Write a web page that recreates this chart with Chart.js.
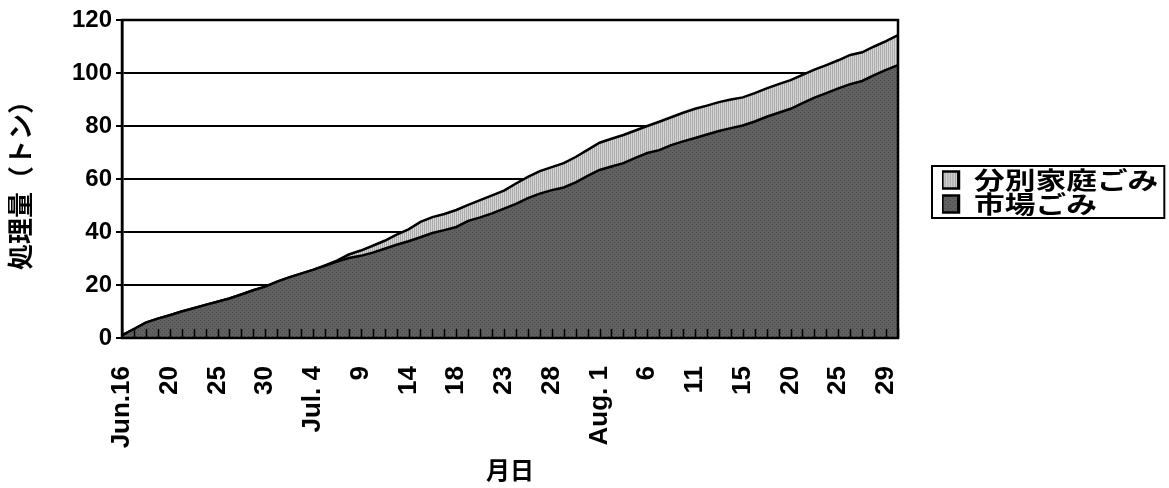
<!DOCTYPE html>
<html>
<head>
<meta charset="utf-8">
<script src="https://cdn.jsdelivr.net/npm/chart.js@4.4.1/dist/chart.umd.min.js"></script>
<style>
  html, body { margin: 0; padding: 0; background: #fff; }
  #wrap { width: 1169px; height: 488px; }
</style>
</head>
<body>
<div id="wrap"><canvas id="graf" width="1169" height="488"></canvas></div>
<script>
// dias úteis (sem domingos) de 16/6 a 30/8
const categorias = [
    '6/16','6/17','6/18','6/19','6/20','6/21','6/23','6/24','6/25','6/26','6/27','6/28','6/30',
    '7/1','7/2','7/3','7/4','7/5','7/7','7/8','7/9','7/10','7/11','7/12','7/14','7/15','7/16',
    '7/17','7/18','7/19','7/21','7/22','7/23','7/24','7/25','7/26','7/28','7/29','7/30','7/31',
    '8/1','8/2','8/4','8/5','8/6','8/7','8/8','8/9','8/11','8/12','8/13','8/14','8/15','8/16',
    '8/18','8/19','8/20','8/21','8/22','8/23','8/25','8/26','8/27','8/28','8/29','8/30'
];

// rótulos do eixo x (um a cada 4 categorias)
const rotulosX = ['Jun.16','20','25','30','Jul. 4','9','14','18','23','28','Aug. 1','6','11','15','20','25','29'];
const passoRotulo = 4;

const ticksY = [0, 20, 40, 60, 80, 100, 120];

const nomes = ['市場ごみ', '分別家庭ごみ'];

// toneladas acumuladas
const ichiba = [
    1, 3.4, 5.8, 7.3, 8.6, 10, 11.2, 12.5, 13.7, 14.9, 16.4, 18, 19.4, 21.3, 22.9, 24.3, 25.7,
    27.2, 28.8, 30.2, 31, 32.2, 33.7, 35.2, 36.5, 38, 39.6, 40.7, 41.9, 44.2, 45.5, 47, 48.8,
    50.6, 52.8, 54.5, 55.8, 56.8, 58.7, 61.2, 63.4, 64.7, 66, 68, 69.8, 70.9, 72.8, 74.2, 75.5,
    76.8, 78.1, 79.2, 80.2, 81.7, 83.5, 85, 86.5, 88.6, 90.7, 92.4, 94.2, 95.8, 97, 99.2, 101.2, 103
];
const bunbetsu = [
    0, 0, 0, 0, 0, 0, 0, 0, 0, 0, 0, 0, 0, 0, 0, 0, 0, 0.2,
    0.4, 1.3, 2.0, 2.6, 3.0, 3.8, 4.5, 5.8, 6.0, 6.1, 6.4, 6.0, 6.5, 6.8, 6.8, 7.7, 8.0, 8.5,
    8.7, 9.2, 9.6, 9.8, 10.3, 10.5, 10.6, 10.3, 10.2, 10.7, 10.5, 10.8, 11.0, 10.9, 10.9, 10.8,
    10.6, 10.7, 10.7, 10.8, 10.8, 10.7, 10.6, 10.6, 10.6, 11.0, 10.8, 10.8, 10.8, 11.3
];

const fonteLatina = "'Liberation Sans', Arial, sans-serif";
const fonteJP = "'Noto Sans CJK JP', sans-serif";
const escalaLegenda = 1.28; // a legenda original é mais larga que alta

// textura pontilhada escura e listrada clara
function textura(tipo) {
    const c = document.createElement('canvas');
    const g = c.getContext('2d');
    if (tipo === 'escura') {
        c.width = 4; c.height = 4;
        g.fillStyle = '#616161';
        g.fillRect(0, 0, 4, 4);
        g.fillStyle = '#474747';
        g.fillRect(0, 0, 1, 1);
        g.fillRect(2, 2, 1, 1);
    } else {
        c.width = 2; c.height = 2;
        g.fillStyle = '#d6d6d6';
        g.fillRect(0, 0, 2, 2);
        g.fillStyle = '#aaaaaa';
        g.fillRect(0, 0, 1, 2);
    }
    return g.createPattern(c, 'repeat');
}

const moldura = {
    id: 'moldura',
    afterLayout(chart) {
        // legenda fica afastada da área do gráfico
        const lg = chart.legend;
        const dx = chart.chartArea.right + 44 - lg.left;
        lg.left += dx; lg.right += dx;
        lg.top -= 62; lg.bottom -= 62;
        if (!lg._esticada) {
            const desenhar = lg.draw;
            lg.draw = function () {
                const c = this.ctx;
                const x0 = this.left;
                c.save();
                c.translate(x0, 0);
                c.scale(escalaLegenda, 1);
                c.translate(-x0, 0);
                desenhar.apply(this, arguments);
                c.restore();
            };
            lg._esticada = true;
        }
    },
    afterDatasetsDraw(chart) {
        const {ctx, chartArea: a, scales: {x}} = chart;
        ctx.save();
        ctx.strokeStyle = '#000';
        ctx.lineWidth = 1.5;
        ctx.beginPath();
        for (let i = 0; i < categorias.length; i++) {
            const px = Math.round(x.getPixelForValue(i)) + 0.5;
            ctx.moveTo(px, a.bottom);
            ctx.lineTo(px, a.bottom - 9);
        }
        ctx.stroke();
        ctx.lineWidth = 2.5;
        ctx.strokeRect(a.left, a.top, a.right - a.left, a.bottom - a.top);
        ctx.restore();
    },
    afterDraw(chart) {
        const caixas = chart.legend.legendHitBoxes;
        if (!caixas || !caixas.length) return;
        let l = Infinity, w = 0, t = Infinity, b = -Infinity;
        caixas.forEach(h => {
            l = Math.min(l, h.left); w = Math.max(w, h.width);
            t = Math.min(t, h.top); b = Math.max(b, h.top + h.height);
        });
        const ctx = chart.ctx;
        ctx.save();
        ctx.strokeStyle = '#000';
        ctx.lineWidth = 2;
        ctx.strokeRect(l - 10, t - 2, w * escalaLegenda + 16, b - t + 4);
        ctx.restore();
    }
};

const ctx = document.getElementById('graf').getContext('2d');

const data = {
    labels: categorias,
    datasets: [{
        label: nomes[0],
        data: ichiba,
        backgroundColor: textura('escura'),
        borderColor: '#000',
        borderWidth: 2.5,
        pointRadius: 0,
        tension: 0,
        fill: 'origin'
    }, {
        label: nomes[1],
        data: bunbetsu,
        backgroundColor: textura('clara'),
        borderColor: '#000',
        borderWidth: 2.5,
        pointRadius: 0,
        tension: 0,
        fill: '-1'
    }]
};

const config = {
    type: 'line',
    data: data,
    plugins: [moldura],
    options: {
        responsive: false,
        animation: false,
        layout: { padding: { top: 20, right: 92, bottom: 0, left: 0 } },
        plugins: {
            legend: {
                position: 'right',
                reverse: true,
                labels: {
                    color: '#000',
                    boxWidth: 13,
                    boxHeight: 17,
                    padding: 0,
                    font: { family: fonteJP, size: 24, weight: 'bold' }
                }
            },
            tooltip: { enabled: false }
        },
        scales: {
            x: {
                offset: false,
                grid: { display: false },
                border: { display: true, color: '#000', width: 2 },
                ticks: {
                    autoSkip: false,
                    maxRotation: 90,
                    minRotation: 90,
                    padding: 20,
                    color: '#000',
                    font: { family: fonteLatina, size: 26, weight: 'bold' },
                    callback: function (valor, indice) {
                        return indice % passoRotulo === 0 ? rotulosX[indice / passoRotulo] : '';
                    }
                },
                title: {
                    display: true,
                    text: '月日',
                    color: '#000',
                    padding: { top: 0, bottom: 4 },
                    font: { family: fonteJP, size: 24, weight: 'bold' }
                },
                afterFit: function (escala) { escala.height = 150; }
            },
            y: {
                stacked: true,
                min: ticksY[0],
                max: ticksY[ticksY.length - 1],
                grid: { color: '#000', lineWidth: 2, tickLength: 6 },
                border: { color: '#000', width: 2.5 },
                afterBuildTicks: function (escala) {
                    escala.ticks = ticksY.map(v => ({ value: v }));
                },
                ticks: {
                    padding: 4,
                    color: '#000',
                    font: { family: fonteLatina, size: 24, weight: 'bold' }
                },
                title: {
                    display: true,
                    text: '処理量（トン）',
                    color: '#000',
                    padding: { top: 5, bottom: 0 },
                    font: { family: fonteJP, size: 26, weight: 'bold' }
                },
                afterFit: function (escala) { escala.width = 122; }
            }
        }
    }
};

new Chart(ctx, config);
</script>
</body>
</html>
